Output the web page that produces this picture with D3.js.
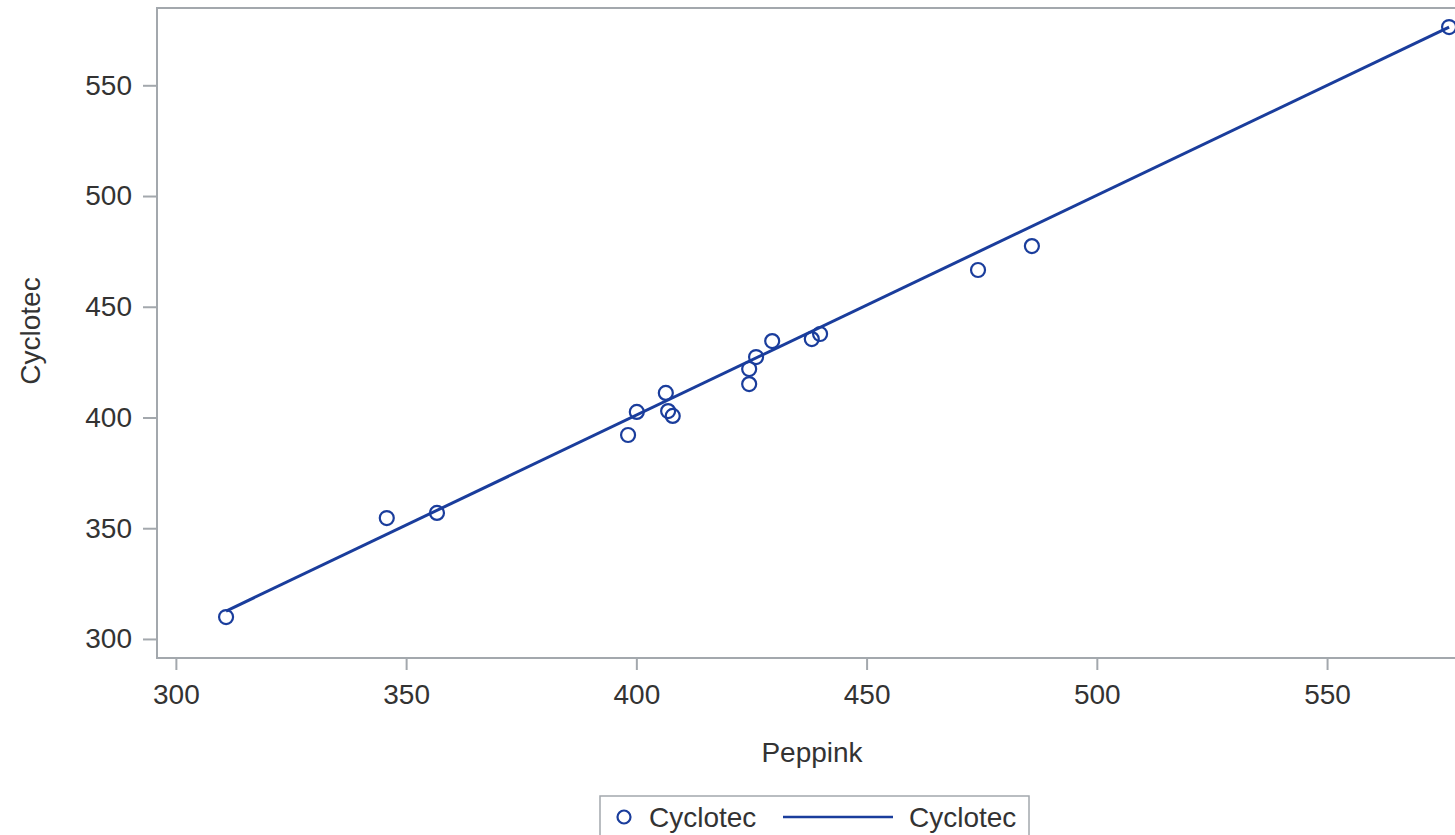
<!DOCTYPE html>
<html>
<head>
<meta charset="utf-8">
<script src="https://cdn.jsdelivr.net/npm/d3@7"></script>
<style>
  body { margin: 0; background: #fff; }
  svg text { font-family: "Liberation Sans", Arial, sans-serif; fill: #333; }
</style>
</head>
<body>
<svg id="chart" width="1455" height="835"></svg>
<script>
// values
var peppink  = [310.9, 345.8, 356.7, 398.2, 400.1, 406.4, 406.9, 407.9, 424.5, 424.5, 426.0, 429.5, 438.1, 439.9, 474.2, 485.9, 576.5];
var cyclotec = [309.9, 354.6, 356.9, 392.1, 402.5, 411.1, 402.9, 400.7, 415.1, 421.9, 427.3, 434.5, 435.4, 437.7, 466.6, 477.4, 576.3];
var fitX = [310.9, 576.5];
var fitY = [312.6, 576.3];
var xTicks = [300, 350, 400, 450, 500, 550];
var yTicks = [300, 350, 400, 450, 500, 550];

var blue = "#1a3d9c";
var grey = "#a3a8ad";

var svg = d3.select("#chart");
var mLeft = 157, mTop = 8, mRight = 1456, mBottom = 658;

var x = d3.scaleLinear().domain([295.9, 578.0]).range([mLeft, mRight]);
var y = d3.scaleLinear().domain([291.4, 584.9]).range([mBottom, mTop]);

// axes
var xAxis = svg.append("g")
    .attr("transform", "translate(0," + mBottom + ")")
    .call(d3.axisBottom(x).tickValues(xTicks).tickSize(12).tickPadding(14).tickFormat(d3.format("d")));
var yAxis = svg.append("g")
    .attr("transform", "translate(" + mLeft + ",0)")
    .call(d3.axisLeft(y).tickValues(yTicks).tickSize(14).tickPadding(11).tickFormat(d3.format("d")));

[xAxis, yAxis].forEach(function (a) {
    a.select(".domain").remove();
    a.selectAll(".tick line").attr("stroke", grey).attr("stroke-width", 2);
    a.selectAll(".tick text").attr("font-size", 28)
        .style("font-family", "Liberation Sans, Arial, sans-serif").attr("fill", "#333");
});

// frame
svg.append("rect")
    .attr("x", mLeft).attr("y", mTop)
    .attr("width", mRight - mLeft).attr("height", mBottom - mTop)
    .attr("fill", "none").attr("stroke", grey).attr("stroke-width", 2);

// fit line
var line = d3.line()
    .x(function (d) { return x(d[0]); })
    .y(function (d) { return y(d[1]); });
svg.append("path")
    .datum(d3.zip(fitX, fitY))
    .attr("d", line)
    .attr("fill", "none")
    .attr("stroke", blue)
    .attr("stroke-width", 3);

// points
svg.append("g").selectAll("circle")
    .data(d3.zip(peppink, cyclotec))
    .enter().append("circle")
    .attr("cx", function (d) { return x(d[0]); })
    .attr("cy", function (d) { return y(d[1]); })
    .attr("r", 7)
    .attr("fill", "none")
    .attr("stroke", blue)
    .attr("stroke-width", 2.2);

// axis labels
svg.append("text")
    .attr("x", 812).attr("y", 762)
    .attr("text-anchor", "middle")
    .attr("font-size", 28)
    .text("Peppink");
svg.append("text")
    .attr("transform", "translate(40,331) rotate(-90)")
    .attr("text-anchor", "middle")
    .attr("font-size", 28)
    .text("Cyclotec");

// legend
var lg = svg.append("g");
lg.append("rect")
    .attr("x", 600).attr("y", 796).attr("width", 429).attr("height", 50)
    .attr("fill", "#fff").attr("stroke", grey).attr("stroke-width", 1.5);
lg.append("circle")
    .attr("cx", 624).attr("cy", 817).attr("r", 6.5)
    .attr("fill", "none").attr("stroke", blue).attr("stroke-width", 2.2);
lg.append("text")
    .attr("x", 649).attr("y", 827).attr("font-size", 28).text("Cyclotec");
lg.append("line")
    .attr("x1", 783).attr("x2", 893).attr("y1", 817).attr("y2", 817)
    .attr("stroke", blue).attr("stroke-width", 2.5);
lg.append("text")
    .attr("x", 909).attr("y", 827).attr("font-size", 28).text("Cyclotec");
</script>
</body>
</html>
